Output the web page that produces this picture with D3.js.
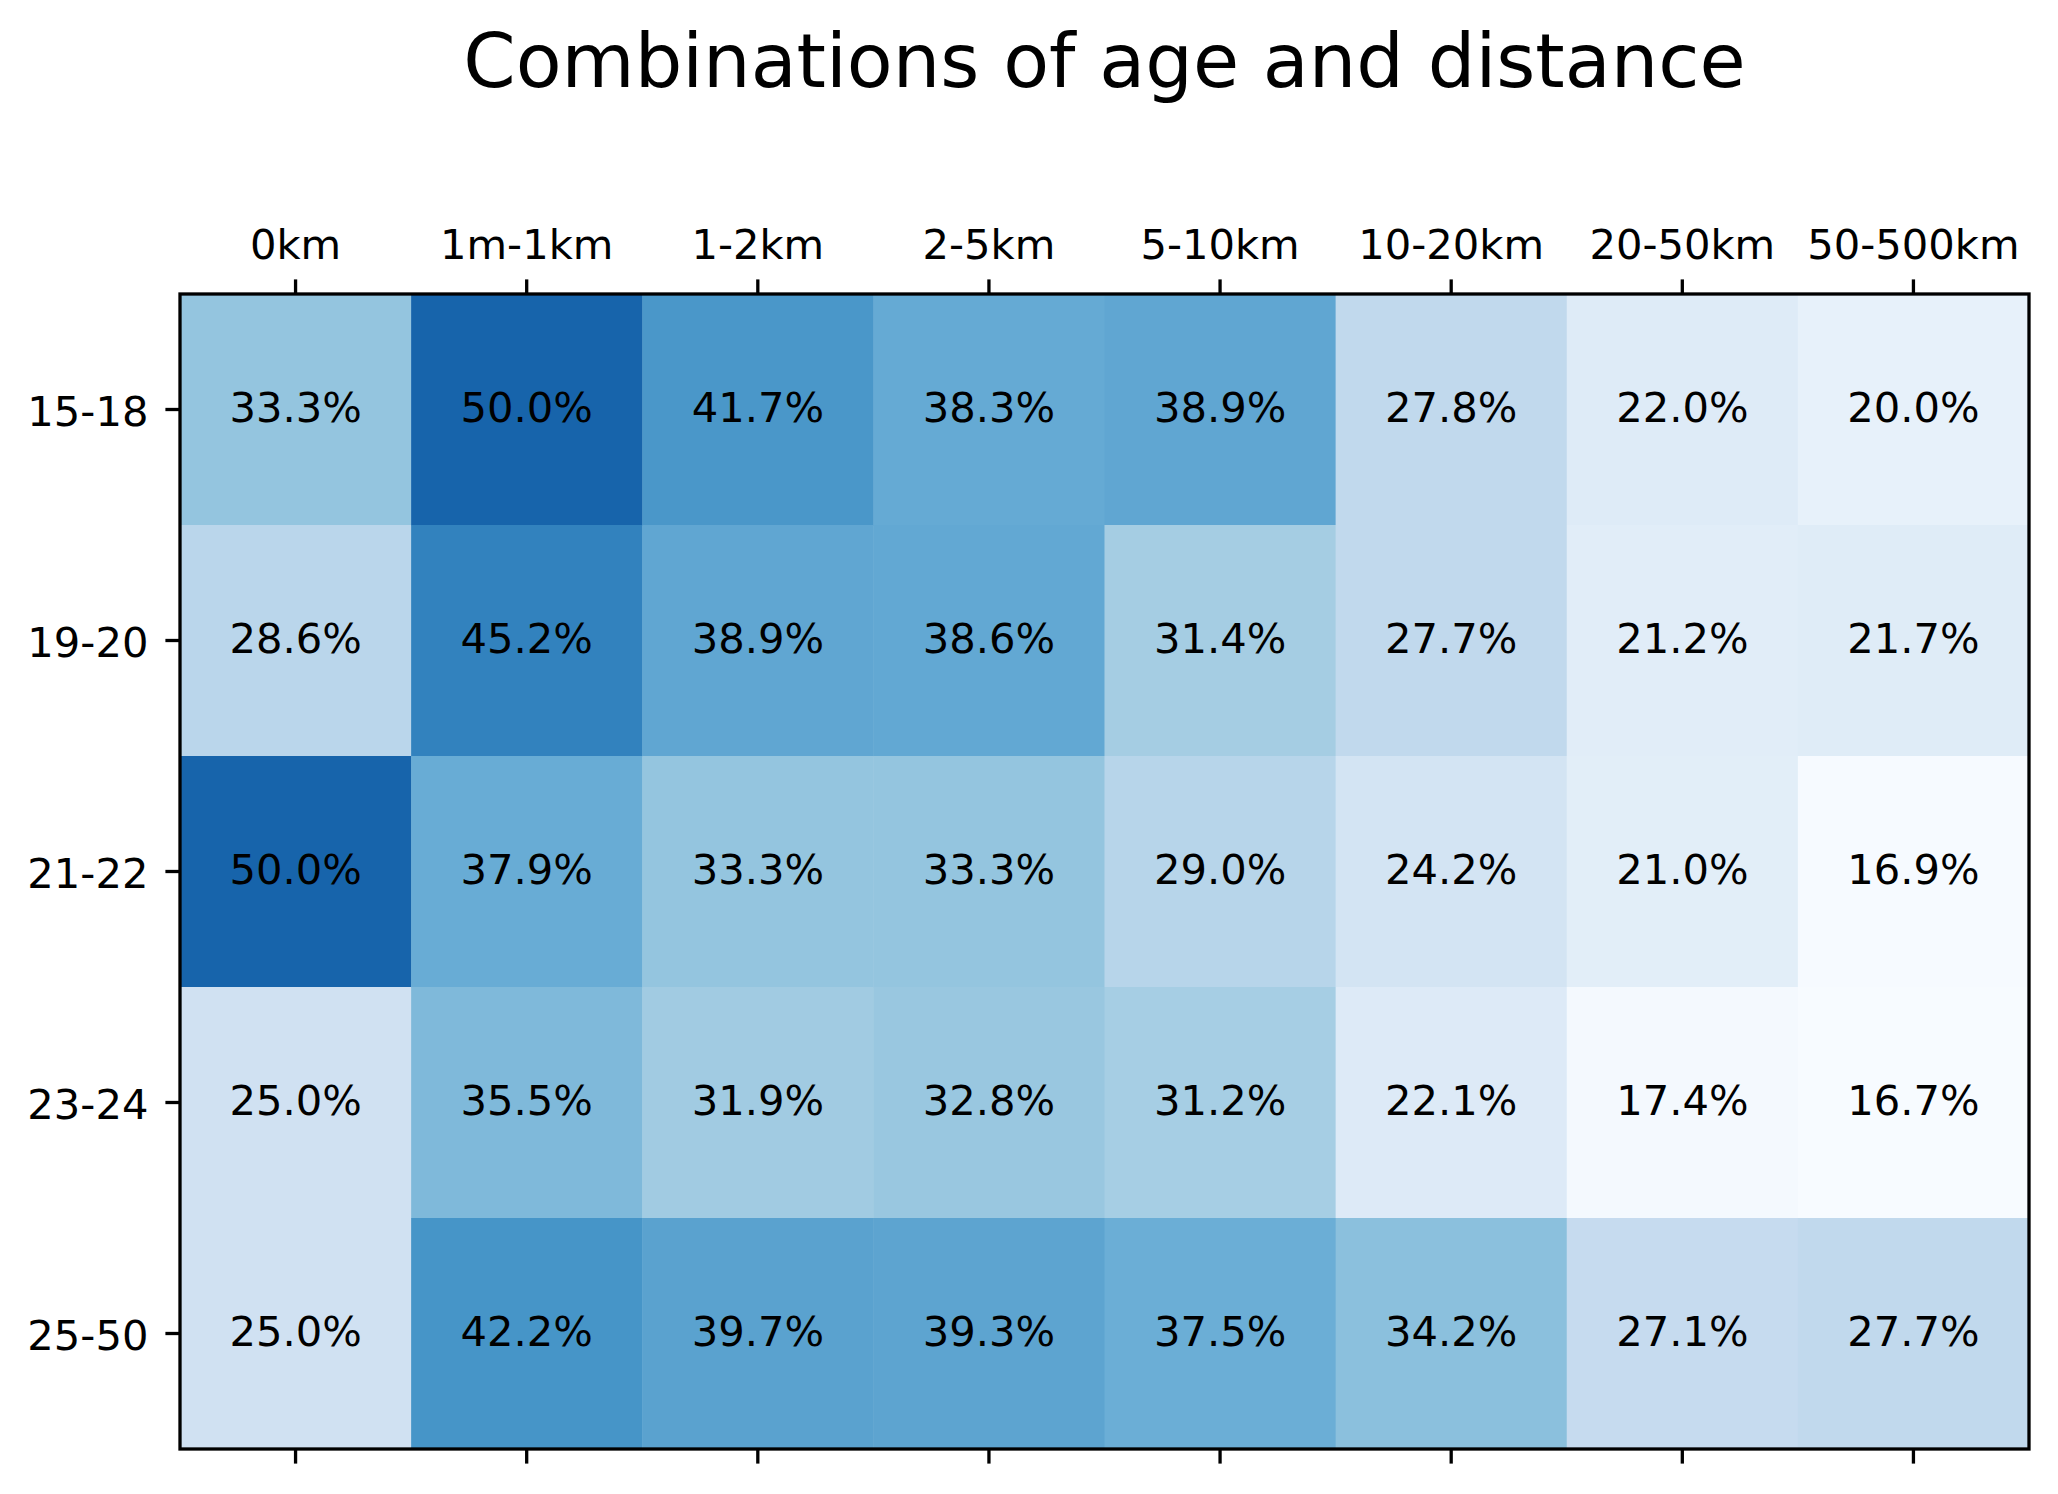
<!DOCTYPE html>
<html>
<head>
<meta charset="utf-8">
<script src="https://cdn.jsdelivr.net/npm/d3@7"></script>
<style>
  body { margin: 0; background: #fff; }
  text { font-family: "DejaVu Sans", sans-serif; fill: #000; }
</style>
</head>
<body>
<div id="chart"></div>
<script>
// Data for the heatmap
const distances = ["0km", "1m-1km", "1-2km", "2-5km", "5-10km", "10-20km", "20-50km", "50-500km"];
const ages = ["15-18", "19-20", "21-22", "23-24", "25-50"];
const row1518 = [33.3, 50.0, 41.7, 38.3, 38.9, 27.8, 22.0, 20.0];
const row1920 = [28.6, 45.2, 38.9, 38.6, 31.4, 27.7, 21.2, 21.7];
const row2122 = [50.0, 37.9, 33.3, 33.3, 29.0, 24.2, 21.0, 16.9];
const row2324 = [25.0, 35.5, 31.9, 32.8, 31.2, 22.1, 17.4, 16.7];
const row2550 = [25.0, 42.2, 39.7, 39.3, 37.5, 34.2, 27.1, 27.7];
const rows = [row1518, row1920, row2122, row2324, row2550];

// flat cell list
const cells = [];
rows.forEach((r, j) => r.forEach((v, i) => cells.push({ age: ages[j], dist: distances[i], value: v })));

// Set dimensions and margins
const W = 2058, H = 1494;
const margin = { top: 294, right: 29, bottom: 45, left: 180 };
const width = W - margin.left - margin.right;
const height = H - margin.top - margin.bottom;
const fontPx = 41.67;

// matplotlib "Blues" stops
const blues = ["#f7fbff", "#deebf7", "#c6dbef", "#9ecae1", "#6baed6", "#4292c6", "#2171b5", "#08519c", "#08306b"];
const vmin = 16.7, vmax = 58.3;
const color = d3.scaleLinear()
    .domain(blues.map((d, i) => vmin + (vmax - vmin) * i / (blues.length - 1)))
    .range(blues)
    .interpolate(d3.interpolateRgb)
    .clamp(true);

const svgRoot = d3.select("#chart")
    .append("svg")
    .attr("width", W)
    .attr("height", H);

// Title
svgRoot.append("text")
    .attr("x", margin.left + width / 2)
    .attr("y", 87)
    .attr("text-anchor", "middle")
    .style("font-size", "75px")
    .text("Combinations of age and distance");

const svg = svgRoot.append("g")
    .attr("transform", `translate(${margin.left},${margin.top})`);

// Create scales
const x = d3.scaleBand().domain(distances).range([0, width]);
const y = d3.scaleBand().domain(ages).range([0, height]);

// Cells
svg.selectAll(".cell")
    .data(cells)
    .enter()
    .append("rect")
    .attr("class", "cell")
    .attr("x", d => x(d.dist))
    .attr("y", d => y(d.age))
    .attr("width", x.bandwidth() + 0.5)
    .attr("height", y.bandwidth() + 0.5)
    .style("fill", d => color(d.value));

// Labels
svg.selectAll(".label")
    .data(cells)
    .enter()
    .append("text")
    .attr("class", "label")
    .attr("x", d => x(d.dist) + x.bandwidth() / 2)
    .attr("y", d => y(d.age) + y.bandwidth() / 2)
    .attr("dy", "0.3em")
    .attr("text-anchor", "middle")
    .style("font-size", fontPx + "px")
    .text(d => d.value.toFixed(1) + "%");

// Axes
const tickLen = 14.6, lw = 3.3;

const xTop = svg.append("g")
    .call(d3.axisTop(x).tickSize(tickLen).tickSizeOuter(0).tickPadding(20));
xTop.selectAll("text").style("font-size", fontPx + "px");

const xBottom = svg.append("g")
    .attr("transform", `translate(0,${height})`)
    .call(d3.axisBottom(x).tickSize(tickLen).tickSizeOuter(0).tickFormat(""));

const yLeft = svg.append("g")
    .call(d3.axisLeft(y).tickSize(tickLen).tickSizeOuter(0).tickPadding(17));
yLeft.selectAll("text").style("font-size", fontPx + "px").attr("dy", "0.4em");

[xTop, xBottom, yLeft].forEach(g => {
    g.select(".domain").remove();
    g.selectAll(".tick line").attr("stroke", "#000").attr("stroke-width", lw);
    g.attr("font-family", null).attr("font-size", null);
});

// Frame
svg.append("rect")
    .attr("width", width)
    .attr("height", height)
    .attr("fill", "none")
    .attr("stroke", "#000")
    .attr("stroke-width", lw);
</script>
</body>
</html>
